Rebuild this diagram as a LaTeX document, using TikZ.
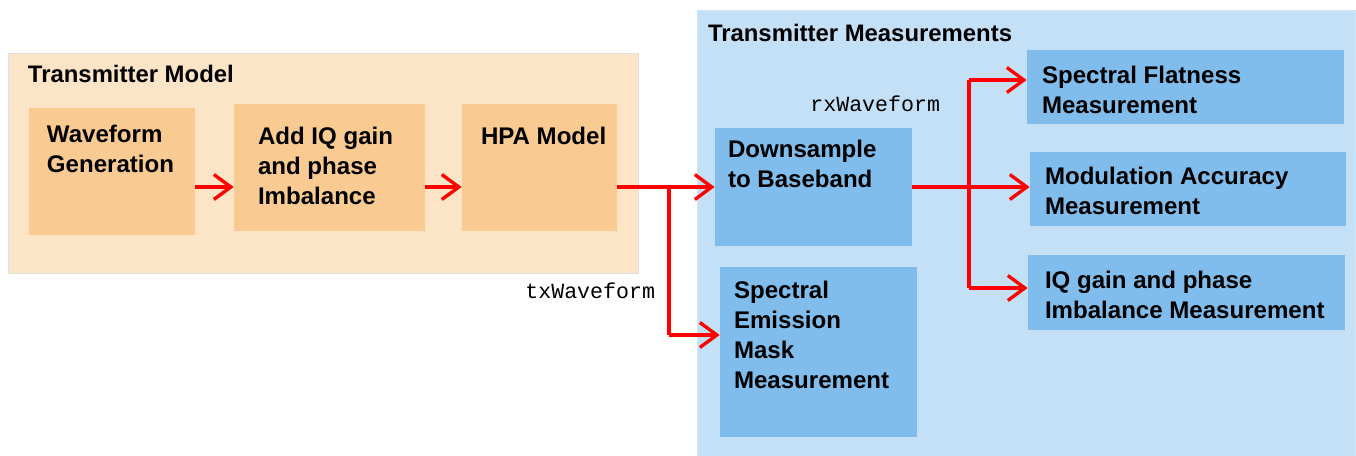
\documentclass[tikz,border=0pt]{standalone}
\usepackage{fontspec}
\setmainfont{Liberation Sans}
\setmonofont{Liberation Mono}
\usepackage{tikz}
\usetikzlibrary{positioning,arrows.meta,calc,fit}

\definecolor{peachbg}{HTML}{FCE4C6}
\definecolor{peachbx}{HTML}{F9CA91}
\definecolor{bluebg}{HTML}{C3E0F6}
\definecolor{bluebx}{HTML}{80BDEC}

\begin{document}
\begin{tikzpicture}[x=0.02cm,y=-0.02cm,
  grp/.style={inner sep=0pt,line width=0.4pt},
  bx/.style={inner sep=0pt,draw=none},
  lb/.style={anchor=north west,inner sep=0pt,align=left,font=\fontsize{13.7}{17}\selectfont\bfseries},
  ttl/.style={anchor=north west,inner sep=0pt,font=\fontsize{13.6}{15}\selectfont\bfseries},
  sig/.style={anchor=north west,inner sep=0pt,font=\fontsize{12.3}{15}\selectfont\ttfamily},
  ar/.style={draw=red,line width=1.9pt,-{Straight Barb[length=3.4mm,width=5mm,line width=1.9pt]}},
  ln/.style={draw=red,line width=1.9pt}]
  \useasboundingbox (0,0) rectangle (1356,456);
  % groups
  \node[grp,fill=peachbg,draw=black!12,fit={(8,53) (638,273)}] (tm) {};
  \node[grp,fill=bluebg,draw=bluebg!85!white,fit={(697,10) (1355,456)}] (meas) {};
  \node[ttl] (tm-t) at ($(tm.north west)+(20,12)$) {Transmitter Model};
  \node[ttl] (meas-t) at ($(meas.north west)+(11,14)$) {Transmitter Measurements};
  % transmitter blocks
  \node[bx,fill=peachbx,fit={(29,108) (195,235)}] (wave) {};
  \node[bx,fill=peachbx,fit={(234,104) (425,231)}] (addiq) {};
  \node[bx,fill=peachbx,fit={(462,104) (617,231)}] (hpa) {};
  \node[lb] (wave-t) at ($(wave.north west)+(18,17)$) {Waveform\\Generation};
  \node[lb] (addiq-t) at ($(addiq.north west)+(24,23)$) {Add IQ gain\\and phase\\Imbalance};
  \node[lb] (hpa-t) at ($(hpa.north west)+(19,23)$) {HPA Model};
  % measurement blocks
  \node[bx,fill=bluebx,fit={(715,128) (912,246)}] (down) {};
  \node[bx,fill=bluebx,fit={(720,267) (917,437)}] (sem) {};
  \node[bx,fill=bluebx,fit={(1027,50) (1344,124)}] (flat) {};
  \node[bx,fill=bluebx,fit={(1030,152) (1346,226)}] (mod) {};
  \node[bx,fill=bluebx,fit={(1028,255) (1345,330)}] (iqm) {};
  \node[lb] (down-t) at ($(down.north west)+(13,12)$) {Downsample\\to Baseband};
  \node[lb] (sem-t) at ($(sem.north west)+(14,14)$) {Spectral\\Emission\\Mask\\Measurement};
  \node[lb] (flat-t) at ($(flat.north west)+(15,16)$) {Spectral Flatness\\Measurement};
  \node[lb] (mod-t) at ($(mod.north west)+(15,15)$) {Modulation Accuracy\\Measurement};
  \node[lb] (iqm-t) at ($(iqm.north west)+(17,16)$) {IQ gain and phase\\Imbalance Measurement};
  % signal names
  \node[sig] (tx) at (525,282) {txWaveform};
  \node[sig] (rx) at (810,95) {rxWaveform};
  % connectors
  \coordinate (lvl) at (0,187);
  \coordinate (j1) at (669,187);
  \coordinate (j2) at (969,187);
  \draw[ar] (wave.east |- lvl) -- (addiq.west |- lvl);
  \draw[ar] (addiq.east |- lvl) -- (hpa.west |- lvl);
  \draw[ar] (hpa.east |- lvl) -- (down.west |- lvl);
  \draw[ln] (j1) -- (j1 |- 0,335);
  \draw[ar] (j1 |- 0,335) -- (sem.west |- 0,335);
  \draw[ar] (down.east |- lvl) -- (mod.west |- lvl);
  \draw[ln] (j2 |- 0,80) -- (j2 |- 0,288);
  \draw[ar] (j2 |- 0,80) -- (flat.west |- 0,80);
  \draw[ar] (j2 |- 0,288) -- (iqm.west |- 0,288);
\end{tikzpicture}
\end{document}
